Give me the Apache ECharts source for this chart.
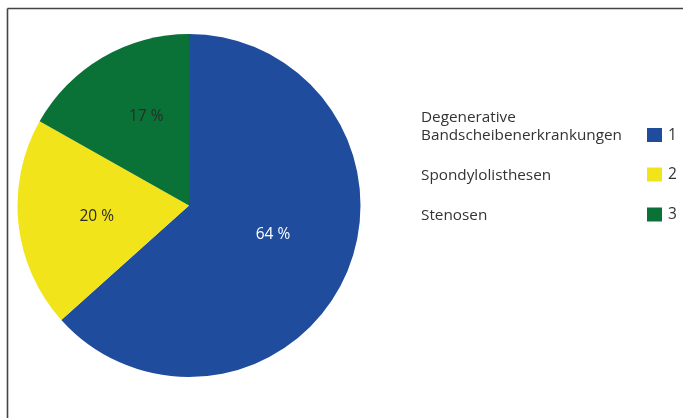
<!DOCTYPE html>
<html>
<head>
<meta charset="utf-8">
<script src="https://cdn.jsdelivr.net/npm/echarts@6/dist/echarts.min.js"></script>
<style>
  html, body { margin: 0; padding: 0; background: #fff; }
  #chart { width: 683px; height: 418px; }
</style>
</head>
<body>
<div id="chart"></div>
<script>
// Categories, values and legend keys
const categories = ['Degenerative\nBandscheibenerkrankungen', 'Spondylolisthesen', 'Stenosen'];
const values = [64, 20, 17];
const legendKeys = ['1', '2', '3'];
const colors = ['#1f4c9d', '#f1e41b', '#0a7236'];
const labelColors = ['#ffffff', '#2b2b2b', '#2b2b2b'];
const labelOffsets = [[3, -7], [-4, 1], [2, -12]];

const FONT = '"Open Sans", Lato, sans-serif';

const chart = echarts.init(document.getElementById('chart'), null, { renderer: 'canvas' });

// Legend rows: text on the left, colour square and key number on the right
const rowCenters = [135, 174.5, 214.5];
const lineHeight = 18;
const legendGraphics = [];
categories.forEach((name, i) => {
  const lines = name.split('\n');
  lines.forEach((line, j) => {
    legendGraphics.push({
      type: 'text',
      x: 421,
      y: rowCenters[i] + 1 - (lines.length - 1 - j) * lineHeight,
      style: { text: line, font: '15.3px ' + FONT, fill: '#333333', verticalAlign: 'middle', align: 'left' }
    });
  });
  legendGraphics.push({
    type: 'rect',
    shape: { x: 647, y: rowCenters[i] - 7, width: 15, height: 14 },
    style: { fill: colors[i] }
  });
  legendGraphics.push({
    type: 'text',
    x: 668,
    y: rowCenters[i] + 0.5,
    style: { text: legendKeys[i], font: '15.5px ' + FONT, fill: '#333333', verticalAlign: 'middle', align: 'left' }
  });
});

// Frame lines along top and left edge
const frame = [
  { type: 'line', shape: { x1: 7.5, y1: 8.5, x2: 683, y2: 8.5 }, style: { stroke: '#444444', lineWidth: 1.6 } },
  { type: 'line', shape: { x1: 7.5, y1: 8.5, x2: 7.5, y2: 418 }, style: { stroke: '#444444', lineWidth: 1.6 } }
];

chart.setOption({
  animation: false,
  backgroundColor: '#ffffff',
  graphic: frame.concat(legendGraphics),
  series: [{
    type: 'pie',
    center: [189, 205.5],
    radius: [0, 171.5],
    startAngle: 90,
    clockwise: true,
    silent: true,
    label: {
      show: true,
      position: 'inside',
      fontFamily: FONT,
      fontSize: 15.5,
      formatter: p => p.value + ' %'
    },
    labelLine: { show: false },
    itemStyle: { borderWidth: 0 },
    data: categories.map((name, i) => ({
      name: name,
      value: values[i],
      itemStyle: { color: colors[i] },
      label: { color: labelColors[i], offset: labelOffsets[i] }
    }))
  }]
});
</script>
</body>
</html>
